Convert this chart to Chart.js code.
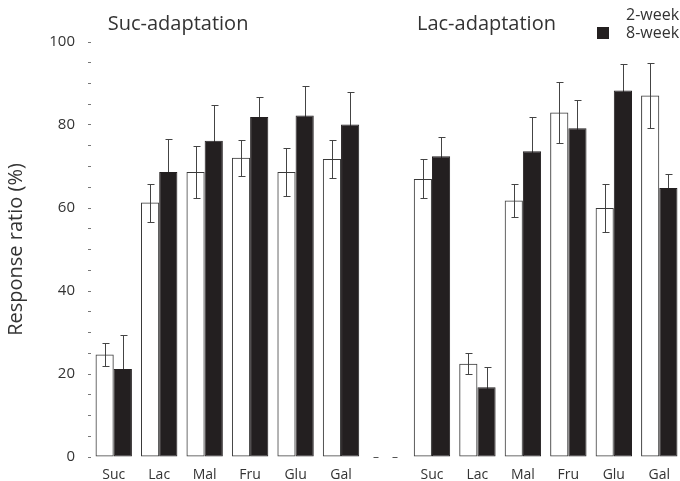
<!DOCTYPE html>
<html>
<head>
<meta charset="utf-8">
<script src="https://cdn.jsdelivr.net/npm/chart.js@4"></script>
<style>
  html, body { margin: 0; padding: 0; background: #fff; overflow: hidden; }
  #wrap { position: relative; width: 692px; height: 481px; }
</style>
</head>
<body>
<div id="wrap"><canvas id="ratioChart"></canvas></div>
<script>
// sugars tested in each adaptation group
const sugars = ['Suc', 'Lac', 'Mal', 'Fru', 'Glu', 'Gal'];
const groupTitles = ['Suc-adaptation', 'Lac-adaptation'];
const seriesNames = ['2-week', '8-week'];

// Suc-adaptation (left group)
const sucWeek2 = [24.7, 61.3, 68.7, 72.1, 68.7, 71.8];
const sucWeek2Err = [2.8, 4.6, 6.2, 4.4, 5.8, 4.6];
const sucWeek8 = [21.2, 68.7, 76.2, 81.9, 82.3, 80.1];
const sucWeek8Err = [8.1, 8.0, 8.5, 4.9, 7.0, 7.8];

// Lac-adaptation (right group)
const lacWeek2 = [67.0, 22.5, 61.8, 83.0, 60.0, 87.1];
const lacWeek2Err = [4.7, 2.6, 4.0, 7.4, 5.8, 7.8];
const lacWeek8 = [72.5, 16.8, 73.7, 79.2, 88.3, 64.8];
const lacWeek8Err = [4.5, 4.9, 8.3, 6.9, 6.5, 3.4];

const yTicks = [0, 20, 40, 60, 80, 100];

// one empty slot between the two groups
const labels = [...sugars, '', ...sugars];
const week2 = [...sucWeek2, null, ...lacWeek2];
const week8 = [...sucWeek8, null, ...lacWeek8];
const week2Err = [...sucWeek2Err, null, ...lacWeek2Err];
const week8Err = [...sucWeek8Err, null, ...lacWeek8Err];

const textColor = '#333';
const barBlack = '#231f20';

// error bars drawn before the bars, so black bars hide the lower half
const errorBars = {
  id: 'errorBars',
  beforeDatasetsDraw(chart) {
    const ctx = chart.ctx;
    const y = chart.scales.y;
    const errs = [week2Err, week8Err];
    ctx.save();
    ctx.strokeStyle = '#444';
    ctx.lineWidth = 1;
    chart.data.datasets.forEach((ds, di) => {
      chart.getDatasetMeta(di).data.forEach((bar, i) => {
        const v = ds.data[i];
        if (v == null) return;
        const e = errs[di][i];
        const x = Math.round(bar.x) + 0.5;
        const top = Math.round(y.getPixelForValue(v + e)) + 0.5;
        const bot = Math.round(y.getPixelForValue(v - e)) + 0.5;
        ctx.beginPath();
        ctx.moveTo(x, top); ctx.lineTo(x, bot);
        ctx.moveTo(x - 3, top); ctx.lineTo(x + 4, top);
        ctx.moveTo(x - 3, bot); ctx.lineTo(x + 4, bot);
        ctx.stroke();
      });
    });
    ctx.restore();
  }
};

// group titles, legend, and the little dashes in the empty slot
const decorations = {
  id: 'decorations',
  afterDraw(chart) {
    const ctx = chart.ctx;
    const xs = chart.scales.x;
    const area = chart.chartArea;
    ctx.save();
    ctx.fillStyle = textColor;
    ctx.textBaseline = 'middle';
    ctx.textAlign = 'left';
    ctx.font = '20px "Open Sans"';
    ctx.fillText(groupTitles[0], xs.getPixelForValue(0) - 6, 24);
    ctx.fillText(groupTitles[1], xs.getPixelForValue(7) - 15, 24);

    // legend
    ctx.font = '16px "Open Sans"';
    ctx.fillText(seriesNames[0], 626, 15);
    ctx.fillText(seriesNames[1], 626, 33);
    ctx.fillStyle = barBlack;
    ctx.fillRect(597, 27, 12, 12);

    // dashes along the baseline in the gap
    const cx = xs.getPixelForValue(6);
    ctx.strokeStyle = '#555';
    ctx.beginPath();
    ctx.moveTo(cx - 13, area.bottom + 0.5); ctx.lineTo(cx - 8, area.bottom + 0.5);
    ctx.moveTo(cx + 6, area.bottom + 0.5); ctx.lineTo(cx + 11, area.bottom + 0.5);
    ctx.stroke();
    ctx.restore();
  }
};

new Chart(document.getElementById('ratioChart'), {
  type: 'bar',
  data: {
    labels: labels,
    datasets: [
      {
        label: seriesNames[0],
        data: week2,
        backgroundColor: 'rgba(255,255,255,0)',
        borderColor: '#3a3a3a',
        borderWidth: 1,
        borderSkipped: false
      },
      {
        label: seriesNames[1],
        data: week8,
        backgroundColor: barBlack,
        borderColor: barBlack,
        borderWidth: 1,
        borderSkipped: false
      }
    ]
  },
  options: {
    responsive: true,
    maintainAspectRatio: false,
    animation: false,
    categoryPercentage: 0.8,
    barPercentage: 1.0,
    layout: { padding: { top: 42, right: 10, left: 0, bottom: 0 } },
    scales: {
      x: {
        grid: { display: false, drawTicks: false },
        border: { display: false },
        ticks: { color: textColor, font: { family: 'Open Sans', size: 14 }, padding: 10, maxRotation: 0, autoSkip: false },
        afterFit(scale) { scale.height = 24; }
      },
      y: {
        min: 0,
        max: 100,
        border: { display: false },
        grid: { drawOnChartArea: false, drawTicks: true, tickLength: 3, color: '#777' },
        ticks: {
          stepSize: 5,
          autoSkip: false,
          padding: 13,
          color: textColor,
          font: { family: 'Open Sans', size: 15 },
          callback: v => yTicks.includes(v) ? v : ''
        },
        title: {
          display: true,
          text: 'Response ratio (%)',
          color: textColor,
          font: { family: 'Open Sans', size: 20 },
          padding: { top: 4, bottom: 0 }
        },
        afterFit(scale) { scale.width = 91; }
      }
    },
    plugins: {
      legend: { display: false },
      tooltip: { enabled: false }
    }
  },
  plugins: [errorBars, decorations]
});
</script>
</body>
</html>
